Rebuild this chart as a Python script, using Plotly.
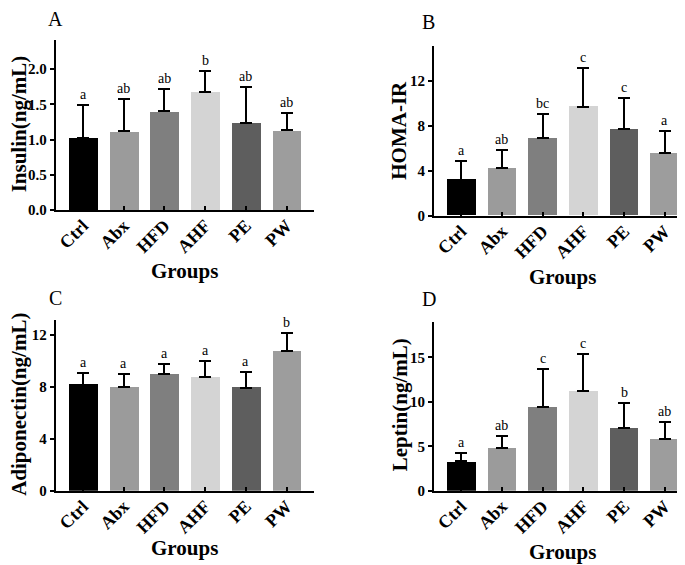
import plotly.graph_objects as go

groups = ["Ctrl", "Abx", "HFD", "AHF", "PE", "PW"]
colors = ["#000000", "#9b9b9b", "#7f7f7f", "#d4d4d4", "#5e5e5e", "#9d9d9d"]

insulin_mean = [1.025, 1.12, 1.40, 1.68, 1.24, 1.13]
insulin_sd = [0.46, 0.46, 0.316, 0.288, 0.50, 0.245]
insulin_sig = ["a", "ab", "ab", "b", "ab", "ab"]

homa_mean = [3.22, 4.25, 6.91, 9.72, 7.70, 5.57]
homa_sd = [1.64, 1.63, 2.19, 3.42, 2.75, 1.95]
homa_sig = ["a", "ab", "bc", "c", "c", "a"]

adipo_mean = [8.16, 7.95, 8.99, 8.71, 7.93, 10.71]
adipo_sd = [0.91, 0.99, 0.78, 1.29, 1.18, 1.42]
adipo_sig = ["a", "a", "a", "a", "a", "b"]

leptin_mean = [3.30, 4.78, 9.41, 11.26, 7.08, 5.82]
leptin_sd = [0.92, 1.33, 4.33, 4.07, 2.81, 1.92]
leptin_sig = ["a", "ab", "c", "c", "b", "ab"]

W, H = 685, 565
FONT = "Liberation Serif"

panels = [
    dict(mean=insulin_mean, sd=insulin_sd, sig=insulin_sig, title="Insulin(ng/mL)", label="A",
         xdom=(47.7, 306), ydom=(32, 205), yr=2.42, tickvals=[0, 0.5, 1.0, 1.5, 2.0], fmt=".1f",
         lab=(47.5, 11), ttl=(11, 118), grp=(176, 267)),
    dict(mean=homa_mean, sd=homa_sd, sig=homa_sig, title="HOMA-IR", label="B",
         xdom=(426, 684), ydom=(39, 210.7), yr=15.07, tickvals=[0, 4, 8, 12], fmt="d",
         lab=(420.5, 14.5), ttl=(391, 124.5), grp=(554, 273)),
    dict(mean=adipo_mean, sd=adipo_sd, sig=adipo_sig, title="Adiponectin(ng/mL)", label="C",
         xdom=(47.7, 306), ydom=(316.7, 489.7), yr=13.1, tickvals=[0, 4, 8, 12], fmt="d",
         lab=(47.5, 294), ttl=(11.5, 402), grp=(176, 548)),
    dict(mean=leptin_mean, sd=leptin_sd, sig=leptin_sig, title="Leptin(ng/mL)", label="D",
         xdom=(426, 684), ydom=(318.3, 489.7), yr=19.0, tickvals=[0, 5, 10, 15], fmt="d",
         lab=(420.5, 295.5), ttl=(392, 402), grp=(554, 552)),
]

fig = go.Figure()
annotations = []
for i, p in enumerate(panels):
    k = "" if i == 0 else str(i + 1)
    xa, ya = "x" + k, "y" + k
    fig.add_trace(go.Bar(
        x=list(range(len(groups))), y=p["mean"], width=0.71,
        marker=dict(color=colors, line=dict(width=0)),
        error_y=dict(type="data", array=p["sd"], arrayminus=[0] * len(groups), symmetric=False,
                     color="#000000", thickness=2, width=6),
        xaxis=xa, yaxis=ya, showlegend=False,
    ))
    x0, x1 = p["xdom"]
    yt, yb = p["ydom"]
    fig.layout["xaxis" + k] = dict(
        domain=[x0 / W, x1 / W], anchor=ya, range=[-0.67, 5.67],
        tickmode="array", tickvals=list(range(len(groups))), ticktext=groups,
        tickangle=-45, ticks="inside", ticklen=4, tickwidth=2, tickcolor="#000",
        ticklabelstandoff=-4,
        showline=True, linecolor="#000", linewidth=2, showgrid=False, zeroline=False,
        tickfont=dict(family=FONT, size=18, color="#000", weight="bold"),
    )
    fig.layout["yaxis" + k] = dict(
        domain=[1 - yb / H, 1 - yt / H], anchor=xa, range=[0, p["yr"]],
        tickmode="array", tickvals=p["tickvals"], tickformat=p["fmt"],
        ticks="outside", ticklen=4, tickwidth=2, tickcolor="#000",
        showline=True, linecolor="#000", linewidth=2, showgrid=False, zeroline=False,
        tickfont=dict(family=FONT, size=15, color="#000", weight="bold"),
    )
    for j, s in enumerate(p["sig"]):
        annotations.append(dict(x=j, y=p["mean"][j] + p["sd"][j], xref=xa, yref=ya,
                                text=s, showarrow=False, yanchor="bottom", yshift=1,
                                font=dict(family=FONT, size=14, color="#000")))
    lx, ly = p["lab"]
    annotations.append(dict(x=lx / W, y=1 - ly / H, xref="paper", yref="paper", text=p["label"],
                            showarrow=False, xanchor="center", yanchor="middle",
                            font=dict(family=FONT, size=20, color="#000")))
    tx, ty = p["ttl"]
    annotations.append(dict(x=tx / W, y=1 - ty / H, xref="paper", yref="paper", text=p["title"],
                            showarrow=False, xanchor="center", yanchor="middle", textangle=-90,
                            font=dict(family=FONT, size=21, color="#000", weight="bold")))
    gx, gy = p["grp"]
    annotations.append(dict(x=gx / W, y=1 - gy / H, xref="paper", yref="paper", text="Groups",
                            showarrow=False, xanchor="center", yanchor="middle",
                            font=dict(family=FONT, size=21, color="#000", weight="bold")))

fig.update_layout(
    width=W, height=H, margin=dict(l=0, r=0, t=0, b=0),
    paper_bgcolor="white", plot_bgcolor="white",
    annotations=annotations, bargap=0,
)
fig.write_html("out.html")
